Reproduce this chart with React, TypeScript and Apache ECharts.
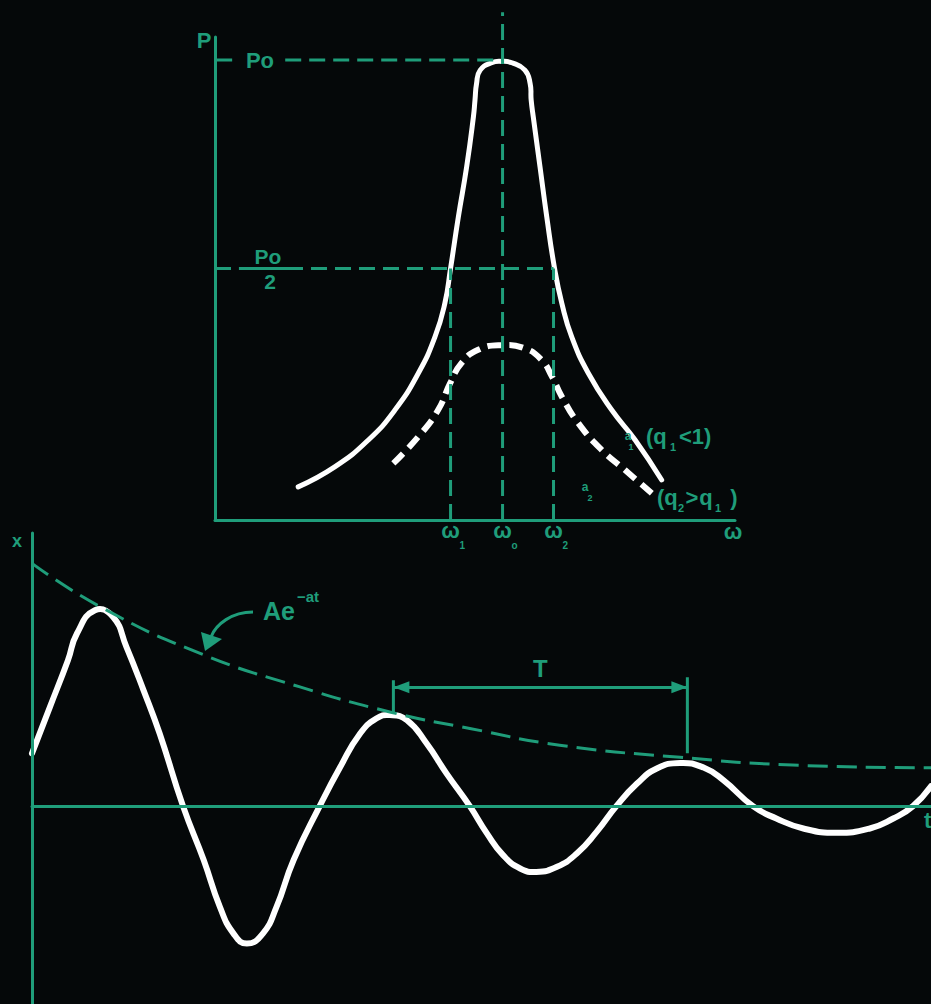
import React, { useEffect, useRef } from "react";
import * as echarts from "echarts";

const GREEN = "#1f9d7a";
const WHITE = "#ffffff";
const BG = "#050809";
const FONT = '"Liberation Sans", Arial, sans-serif';

// ---------- Upper panel: power vs angular frequency (P relative to Po) ----------
const sharpOmega = [1.6, 2.31, 2.95, 3.46, 3.91, 4.23, 4.42, 4.53, 4.68, 4.84, 4.97, 5.0, 5.03, 5.1, 5.32, 5.52, 5.71, 5.96, 6.06, 6.08, 6.12, 6.25, 6.38, 6.53, 6.67, 6.86, 7.18, 7.63, 8.08, 8.59];
const sharpPower = [0.072, 0.116, 0.174, 0.239, 0.319, 0.398, 0.471, 0.547, 0.659, 0.768, 0.877, 0.913, 0.949, 0.978, 0.994, 0.997, 0.994, 0.978, 0.949, 0.913, 0.877, 0.768, 0.659, 0.547, 0.471, 0.398, 0.319, 0.239, 0.174, 0.087];

const broadOmega = [3.43, 3.91, 4.29, 4.52, 4.74, 5.06, 5.51, 5.96, 6.28, 6.48, 6.67, 6.99, 7.44, 7.88, 8.4];
const broadPower = [0.123, 0.181, 0.239, 0.297, 0.341, 0.37, 0.38, 0.373, 0.348, 0.312, 0.268, 0.21, 0.152, 0.109, 0.058];

const omegaMarks = [4.53, 5.53, 6.51]; // ω1, ω0, ω2
const omegaSubs = ["1", "o", "2"];
const peakPower = 1; // Po
const halfPower = 0.547; // Po/2 as drawn

// ---------- Lower panel: damped oscillation x(t) ----------
const timeSamples = [0, 0.2, 0.4, 0.5, 0.7, 0.9, 1.05, 1.24, 1.42, 1.68, 1.91, 2.09, 2.24, 2.39, 2.57, 2.72, 2.91, 3.2, 3.43, 3.65, 3.83, 3.98, 4.17, 4.39, 4.61, 4.87, 5.06, 5.24, 5.43, 5.61, 5.84, 6.06, 6.28, 6.5, 6.73, 6.95, 7.21, 7.47, 7.69, 8.02, 8.28, 8.58, 8.95, 9.32, 9.58, 9.8, 10];
const displacement = [0.217, 0.409, 0.601, 0.711, 0.807, 0.78, 0.656, 0.478, 0.299, 0, -0.222, -0.415, -0.524, -0.566, -0.524, -0.415, -0.222, 0, 0.162, 0.299, 0.361, 0.375, 0.354, 0.258, 0.135, 0, -0.112, -0.202, -0.257, -0.271, -0.25, -0.195, -0.106, 0, 0.093, 0.155, 0.178, 0.159, 0.107, 0, -0.051, -0.092, -0.11, -0.092, -0.051, 0, 0.082];

const envelopeTime = [0, 0.76, 1.87, 2.98, 3.98, 4.87, 5.87, 7.21, 8.46, 10];
const envelopeValue = [1.0, 0.821, 0.629, 0.491, 0.388, 0.32, 0.251, 0.201, 0.169, 0.158];

const periodStart = 4.02;
const periodEnd = 7.29;
const periodArrowLevel = 0.49;

const zip = (a: number[], b: number[]) => a.map((v, i) => [v, b[i]]);

const guide = (data: number[][], dashed: boolean, extra: any = {}) => ({
  type: "line",
  xAxisIndex: 0,
  yAxisIndex: 0,
  data,
  showSymbol: false,
  symbol: "none",
  silent: true,
  z: 3,
  lineStyle: { color: GREEN, width: 3, type: dashed ? [16, 8] : "solid" },
  ...extra,
});

// smooth curve drawn through the data via the axes' own scales (api.coord)
const smoothCurve = (gi: number, data: number[][], color: string, width: number, z: number, dash?: number[]) => ({
  type: "custom",
  coordinateSystem: "cartesian2d",
  xAxisIndex: gi,
  yAxisIndex: gi,
  data,
  z,
  silent: true,
  encode: { x: 0, y: 1 },
  renderItem: (params: any, api: any) => {
    if (params.dataIndex !== 0) return null;
    const pts = data.map((d) => api.coord(d));
    return {
      type: "polyline",
      shape: { points: pts, smooth: 0.5 },
      style: {
        stroke: color,
        lineWidth: width,
        fill: "none",
        lineDash: dash || null,
        lineCap: dash ? "butt" : "round",
        lineJoin: "round",
      },
    };
  },
});

export default function App() {
  const ref = useRef<HTMLDivElement>(null);

  useEffect(() => {
    if (!ref.current) return;
    const chart = echarts.init(ref.current, null, { renderer: "svg" });

    const axisCommon = {
      axisTick: { show: false },
      axisLabel: { show: false },
      splitLine: { show: false },
      axisLine: { show: true, lineStyle: { color: GREEN, width: 3 } },
      z: 4,
    };

    const option: any = {
      animation: false,
      backgroundColor: BG,
      grid: [
        { left: 215, top: 37, width: 520, height: 483 },
        { left: 32, top: 533, width: 899, height: 471 },
      ],
      xAxis: [
        { type: "value", gridIndex: 0, min: 0, max: 10, ...axisCommon },
        { type: "value", gridIndex: 1, min: 0, max: 10, ...axisCommon },
      ],
      yAxis: [
        { type: "value", gridIndex: 0, min: 0, max: 1.05, ...axisCommon },
        { type: "value", gridIndex: 1, min: -0.815, max: 1.125, ...axisCommon },
      ],
      series: [
        smoothCurve(0, zip(sharpOmega, sharpPower), WHITE, 5, 1),
        smoothCurve(0, zip(broadOmega, broadPower), WHITE, 6, 1, [14, 8]),
        guide([[1.35, peakPower], [omegaMarks[1], peakPower]], true),
        guide([[0, peakPower], [0.33, peakPower]], false),
        guide([[omegaMarks[1], 0], [omegaMarks[1], 1.104]], true, { clip: false }),
        guide([[0, halfPower], [omegaMarks[2], halfPower]], true),
        guide([[0.46, halfPower], [1.63, halfPower]], false),
        guide([[omegaMarks[0], 0], [omegaMarks[0], halfPower]], true),
        guide([[omegaMarks[2], 0], [omegaMarks[2], halfPower]], true),
        // lower panel
        smoothCurve(1, zip(timeSamples, displacement), WHITE, 6, 1),
        smoothCurve(1, zip(envelopeTime, envelopeValue), GREEN, 3, 3, [20, 9]),
        {
          type: "line",
          xAxisIndex: 1,
          yAxisIndex: 1,
          data: [[periodStart, 0.387], [periodStart, 0.519]],
          showSymbol: false,
          symbol: "none",
          silent: true,
          z: 3,
          lineStyle: { color: GREEN, width: 3 },
        },
        {
          type: "line",
          xAxisIndex: 1,
          yAxisIndex: 1,
          data: [[periodEnd, 0.218], [periodEnd, 0.531]],
          showSymbol: false,
          symbol: "none",
          silent: true,
          z: 3,
          lineStyle: { color: GREEN, width: 3 },
          markLine: {
            silent: true,
            symbol: ["triangle", "triangle"],
            symbolSize: [12, 16],
            symbolOffset: [[0, 8], [0, 8]],
            label: { show: false },
            lineStyle: { color: GREEN, width: 3, type: "solid" },
            data: [[{ coord: [periodStart, periodArrowLevel] }, { coord: [periodEnd, periodArrowLevel] }]],
          },
        },
      ],
    };
    chart.setOption(option);

    const toPx = (g: number, x: number, y: number) =>
      chart.convertToPixel({ gridIndex: g } as any, [x, y]) as number[];

    const txt = (text: string, x: number, y: number, size: number, align = "center") => ({
      type: "text",
      x,
      y,
      z: 10,
      silent: true,
      style: {
        text,
        fill: GREEN,
        fontSize: size,
        fontWeight: "bold",
        fontFamily: FONT,
        align,
        verticalAlign: "middle",
      },
    });

    const g: any[] = [];
    // upper panel texts
    g.push(txt("P", 204, 40, 22));
    g.push(txt("Po", 260, 60, 22));
    g.push(txt("Po", 268, 256, 21));
    g.push(txt("2", 270, 281, 21));
    omegaMarks.forEach((w, i) => {
      const [px] = toPx(0, w, 0);
      g.push(txt("ω", px, 530, 22));
      g.push(txt(omegaSubs[i], px + 9, 545, 10, "left"));
    });
    const [endPx] = toPx(0, 10, 0);
    g.push(txt("ω", endPx - 2, 531, 22));

    g.push(txt("a", 628, 436, 12));
    g.push(txt("1", 631, 447, 9));
    g.push(txt("(q", 646, 436, 22, "left"));
    g.push(txt("1", 673, 447, 11));
    g.push(txt("<1)", 679, 436, 22, "left"));

    g.push(txt("a", 585, 487, 12));
    g.push(txt("2", 590, 498, 9));
    g.push(txt("(q", 657, 497, 22, "left"));
    g.push(txt("2", 681, 508, 11));
    g.push(txt(">", 692, 497, 22));
    g.push(txt("q", 706, 497, 22));
    g.push(txt("1", 718, 508, 11));
    g.push(txt(")", 734, 497, 22));

    // lower panel texts
    g.push(txt("x", 17, 541, 18));
    g.push(txt("t", 924, 820, 22, "left"));
    const [tMid] = toPx(1, (periodStart + periodEnd) / 2, 0);
    g.push(txt("T", tMid, 668, 24));
    g.push(txt("Ae", 263, 611, 25, "left"));
    g.push(txt("−at", 297, 596, 15, "left"));

    // curved pointer from label to envelope
    g.push({
      type: "bezierCurve",
      z: 10,
      silent: true,
      shape: { x1: 253, y1: 612, cpx1: 232, cpy1: 612, cpx2: 216, cpy2: 624, x2: 211, y2: 637 },
      style: { stroke: GREEN, lineWidth: 3, fill: "none" },
    });
    g.push({
      type: "polygon",
      z: 10,
      silent: true,
      shape: { points: [[205, 651], [201, 632], [222, 639]] },
      style: { fill: GREEN },
    });

    chart.setOption({ graphic: g });

    return () => chart.dispose();
  }, []);

  return (
    <div
      ref={ref}
      style={{ position: "absolute", left: 0, top: 0, width: 931, height: 1004, background: BG }}
    />
  );
}
